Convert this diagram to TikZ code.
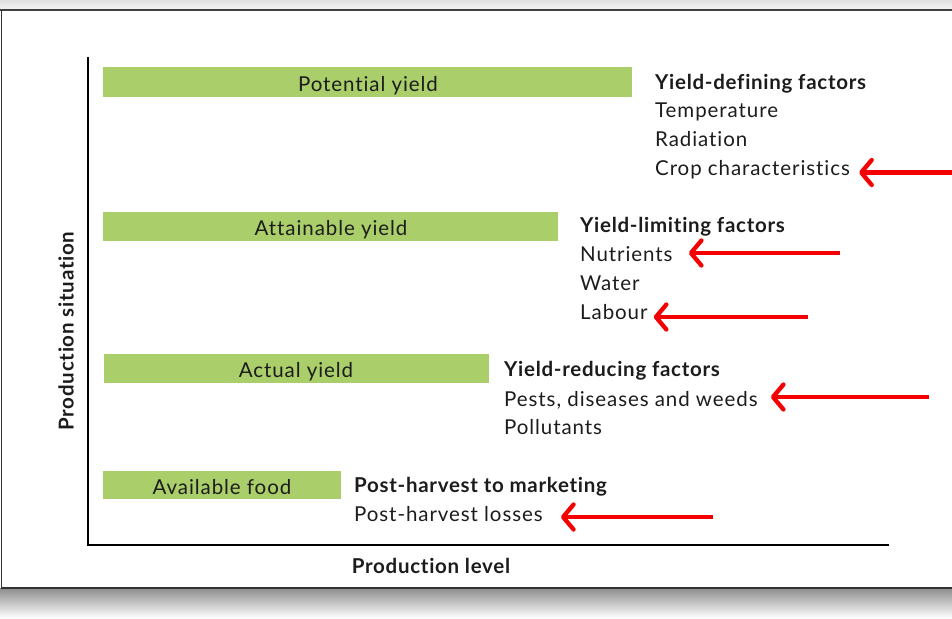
\documentclass[tikz,border=0pt]{standalone}
\usepackage{fontspec}
\setmainfont{Lato}[Ligatures=NoCommon, LetterSpace=4.5, BoldFeatures={LetterSpace=3.5}]
\usetikzlibrary{arrows.meta}
\definecolor{barfill}{RGB}{170,206,106}
\definecolor{ink}{RGB}{28,28,28}
\definecolor{arrowred}{RGB}{245,0,0}
\begin{document}
\begin{tikzpicture}[x=1pt,y=-1pt,
  every node/.style={text=ink, font=\fontsize{20.5}{24}\selectfont},
  bar/.style={fill=barfill, draw=none, inner sep=0pt, anchor=north west},
  barlabel/.style={anchor=base, inner sep=0pt},
  head/.style={anchor=base west, inner sep=0pt, font=\fontsize{20.5}{24}\selectfont\bfseries},
  item/.style={anchor=base west, inner sep=0pt},
  axislabel/.style={inner sep=0pt, font=\fontsize{20.5}{24}\selectfont\bfseries},
  axis/.style={line width=1.6pt, black},
  redarrow/.style={draw=arrowred, line width=4.3pt,
    -{Straight Barb[length=10.5pt, width=25pt, round]}}
]
\useasboundingbox (0,0) rectangle (952,618);

% window frame
\shade[top color=gray!25, bottom color=gray!8] (0,0) rectangle (952,10);
\draw[line width=1.2pt, black!75] (0,10) -- (952,10);
\shade[top color=gray!90, bottom color=white] (0,588) rectangle (952,618);
\draw[line width=1.2pt, black!80] (1.2,10) -- (1.2,588) -- (952,588);

% axes
\coordinate (origin) at (88,545);
\coordinate (ytop) at (88,57);
\coordinate (xend) at (889,545);
\draw[axis] (ytop) -- (origin) -- (xend);
\node[axislabel, rotate=90] (ylab) at (66,331) {Production situation};
\node[axislabel, anchor=base] (xlab) at (431,573) {Production level};

% yield bars
\node[bar, minimum width=529pt, minimum height=30pt] (potential) at (103,67) {};
\node[barlabel] (potlab) at (368,91) {Potential yield};
\node[bar, minimum width=455pt, minimum height=29pt] (attainable) at (103,212) {};
\node[barlabel] (attlab) at (331,235) {Attainable yield};
\node[bar, minimum width=385pt, minimum height=29pt] (actual) at (104,354) {};
\node[barlabel] (actlab) at (296,377) {Actual yield};
\node[bar, minimum width=238pt, minimum height=28pt] (available) at (103,471) {};
\node[barlabel] (avlab) at (222,494) {Available food};

% factor lists
\node[head] (defining) at (655,89) {Yield-defining factors};
\node[item] (temp) at (655,117) {Temperature};
\node[item] (rad) at (655,146) {Radiation};
\node[item] (crop) at (655,175) {Crop characteristics};

\node[head] (limiting) at (580,232) {Yield-limiting factors};
\node[item] (nutr) at (580,261) {Nutrients};
\node[item] (water) at (580,290) {Water};
\node[item] (labour) at (580,319) {Labour};

\node[head] (reducing) at (504,376) {Yield-reducing factors};
\node[item] (pests) at (504,406) {Pests, diseases and weeds};
\node[item] (poll) at (504,434) {Pollutants};

\node[head] (post) at (354,492) {Post-harvest to marketing};
\node[item] (losses) at (354,521) {Post-harvest losses};

% highlight arrows
\coordinate (a1) at (955,172.5);
\coordinate (a2) at (840,253);
\coordinate (a3) at (808,317);
\coordinate (a4) at (929,397);
\coordinate (a5) at (713,517);
\draw[redarrow, shorten >=9pt] (a1) -- (a1 -| crop.east);
\draw[redarrow, shorten >=16pt] (a2) -- (a2 -| nutr.east);
\draw[redarrow, shorten >=6pt] (a3) -- (a3 -| labour.east);
\draw[redarrow, shorten >=13pt] (a4) -- (a4 -| pests.east);
\draw[redarrow, shorten >=18pt] (a5) -- (a5 -| losses.east);
\end{tikzpicture}
\end{document}
